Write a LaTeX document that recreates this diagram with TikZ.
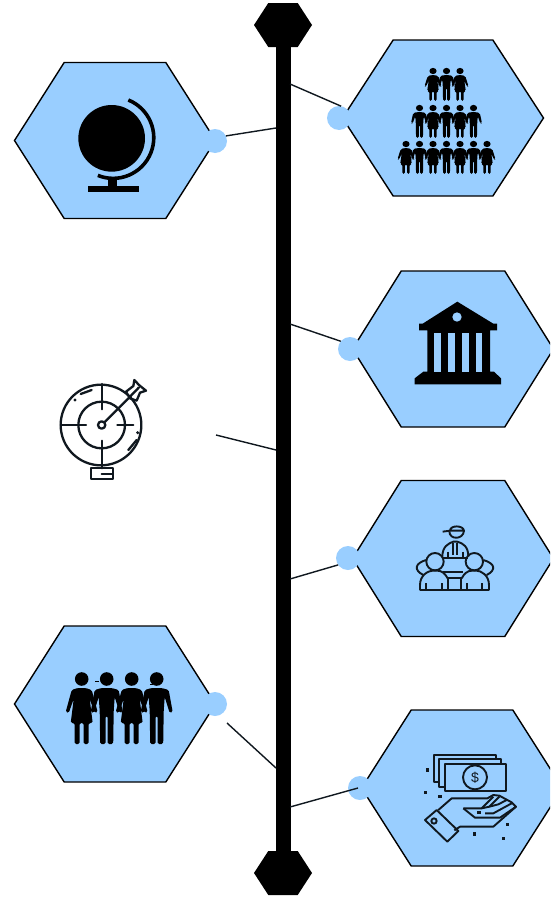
\documentclass[tikz,border=0pt]{standalone}
\usepackage{fontspec}
\setmainfont{Liberation Sans}
\usetikzlibrary{shapes.symbols,positioning}
\definecolor{hexblue}{HTML}{99CEFF}
\definecolor{inkdark}{HTML}{10181F}

\tikzset{
    hexa/.style={signal, signal to=east and west, signal pointer angle=#1,
        draw=black, fill=hexblue, line width=1.4pt, minimum width=201pt, minimum height=156pt, inner sep=0pt, outer sep=0pt},
    hexa/.default=115,
    dot/.style={circle, fill=hexblue, minimum size=24pt, inner sep=0pt, outer sep=0pt},
    link/.style={draw=inkdark, line width=1.4pt},
    ink/.style={draw=inkdark, line width=1.9pt, line join=round},
    bluefill/.style={ink, fill=hexblue},
    manfig/.pic={
        \fill[black] (0,0) circle[radius=6.8];
        \fill[black, rounded corners=1.5pt] (-5,9) -- (5,9) -- (12,11) -- (16,33) -- (13,34) -- (8,18) -- (7,32)
            -- (6.5,65) -- (1,65) -- (1,37) -- (-1,37) -- (-1,65) -- (-6.5,65) -- (-7,32) -- (-8,18) -- (-13,34) -- (-16,33) -- (-12,11) -- cycle;
    },
    womanfig/.pic={
        \fill[black] (0,0) circle[radius=6.8];
        \fill[black, rounded corners=1.5pt] (-4,9) -- (4,9) -- (10,11) -- (16,33) -- (13,34) -- (8,20) -- (11,44) -- (7,44)
            -- (7,65) -- (2,65) -- (2,44) -- (-2,44) -- (-2,65) -- (-7,65) -- (-7,44) -- (-11,44) -- (-8,20) -- (-13,34) -- (-16,33) -- (-10,11) -- cycle;
    },
    capshape/.style={signal, signal to=east and west, signal pointer angle=114,
        fill=black, inner sep=0pt, outer sep=0pt, minimum width=58pt, minimum height=44pt}
}

\begin{document}
\begin{tikzpicture}[x=1pt,y=-1pt]
    \useasboundingbox (0,0) rectangle (550,897);
    \clip (0,0) rectangle (550,897);
    \fill[white] (0,0) rectangle (550,897);

    % spine and its two ends
    \node[fill=black, minimum width=15pt, minimum height=840pt, inner sep=0pt] (spine) at (283.5,450) {};
    \node[capshape] (captop) at (283,25) {};
    \node[capshape] (capbottom) at (283,873) {};

    % hexagons
    \node[hexa] (globehex) at (115,140.5) {};
    \node[hexa=114] (crowdhex) at (443,118) {};
    \node[hexa=116] (bankhex) at (453,349) {};
    \node[hexa=116] (meethex) at (453,558.5) {};
    \node[hexa] (moneyhex) at (462,788) {};
    \node[hexa] (teamhex) at (115,704) {};

    % dots
    \node[dot] (globedot) at (215,141) {};
    \node[dot] (crowddot) at (339,118) {};
    \node[dot] (bankdot) at (350,349) {};
    \node[dot] (meetdot) at (348,558) {};
    \node[dot] (moneydot) at (360,788) {};
    \node[dot] (teamdot) at (215,704) {};

    % connectors
    \coordinate (sglobe) at (276,128);
    \coordinate (scrowd) at (290,84);
    \coordinate (sbank) at (290,324);
    \coordinate (starget) at (276,450);
    \coordinate (ftarget) at (216,435);
    \coordinate (smeet) at (290,579);
    \coordinate (steam) at (276,768);
    \coordinate (fteam) at (227,723);
    \coordinate (smoney) at (290,807);
    \coordinate (fmoney) at (358,788);
    \draw[link] (globedot.25) -- (sglobe);
    \draw[link] (crowddot.80) -- (scrowd);
    \draw[link] (bankdot.140) -- (sbank);
    \draw[link] (ftarget) -- (starget);
    \draw[link] (meetdot.215) -- (smeet);
    \draw[link] (fteam) -- (steam);
    \draw[link] (fmoney) -- (smoney);

    % globe
    \begin{scope}[shift={(60,90)},scale=1/3]
        \fill[black] (155,145) circle[radius=100];
        \draw[black, line width=3.6pt] (205,30) arc[start angle=-68, end angle=112, radius=122];
        \fill[black] (145,265) rectangle (172,290);
        \fill[black] (85,287) rectangle (238,306);
    \end{scope}

    % crowd
    \foreach \px/\py/\kind in {433/71/womanfig, 446.5/71/manfig, 460/71/womanfig,
            419.5/108/manfig, 433/108/womanfig, 446.5/108/manfig, 460/108/womanfig, 473.5/108/manfig,
            406/144/womanfig, 419.5/144/manfig, 433/144/womanfig, 446.5/144/manfig, 460/144/womanfig, 473.5/144/manfig, 487/144/womanfig}
        \pic[xscale=.53,yscale=.46] at (\px,\py) {\kind};

    % bank
    \begin{scope}[shift={(400,295)},scale=1/3]
        \fill[black] (172,20) -- (280,86) -- (291,86) -- (291,106) -- (270,106) -- (270,230) -- (282,230) -- (303,250) -- (303,268)
            -- (44,268) -- (44,250) -- (70,230) -- (82,230) -- (82,106) -- (57,106) -- (57,86) -- (68,86) -- cycle;
        \fill[hexblue] (171,66) circle[radius=14];
        \foreach \gx in {103,145,187,227}
            \fill[hexblue] (\gx,113) rectangle ++(20,117);
    \end{scope}

    % target
    \begin{scope}[shift={(40,370)},scale=1/3,line cap=round,ink/.append style={line width=2.3pt}]
        \draw[ink] (183,165) circle[radius=121];
        \draw[ink] (185,165) circle[radius=70];
        \draw[ink] (185,165) circle[radius=11];
        \draw[ink] (185,42) -- (185,118);
        \draw[ink] (185,212) -- (185,295);
        \draw[ink] (62,165) -- (138,165);
        \draw[ink] (232,165) -- (280,165);
        \draw[ink] (193,157) -- (270,80);
        \draw[ink] (258,65) -- (280,48) -- (283,30) -- (297,45) -- (318,62) -- (300,68) -- (290,92) -- (270,85) -- cycle;
        \draw[ink] (270,80) -- (297,52);
        \draw[ink] (122,72) -- (155,60);
        \draw[ink] (265,240) -- (290,210);
        \fill[inkdark] (105,90) circle[radius=5];
        \fill[inkdark] (293,188) circle[radius=5];
        \draw[ink] (152,295) rectangle (218,328);
        \draw[ink] (185,311) -- (215,311);
    \end{scope}

    % meeting
    \begin{scope}[shift={(400,510)},scale=1/3]
        \draw[ink] (128,65) -- (150,62) .. controls (150,45) and (190,45) .. (192,62) -- (150,62);
        \draw[ink] (148,64) .. controls (148,90) and (190,90) .. (192,62);
        \draw[ink] (127,140) .. controls (127,110) and (145,100) .. (160,95) -- (172,95) .. controls (190,100) and (205,110) .. (205,140);
        \draw[ink] (160,98) -- (160,135) (172,98) -- (172,135) (145,125) -- (145,140) (188,125) -- (188,140);
        \draw[ink] (127,143) -- (205,143);
        \draw[ink] (78,150) .. controls (45,160) and (40,180) .. (70,195);
        \draw[ink] (250,150) .. controls (285,160) and (290,180) .. (260,195);
        \draw[ink] (130,185) -- (190,185);
        \draw[ink] (105,155) circle[radius=26];
        \draw[ink] (223,155) circle[radius=26];
        \draw[ink] (60,241) -- (60,225) .. controls (60,195) and (85,182) .. (98,182) -- (112,182) .. controls (125,182) and (135,190) .. (143,205);
        \draw[ink] (267,241) -- (267,225) .. controls (267,195) and (242,182) .. (230,182) -- (216,182) .. controls (203,182) and (193,190) .. (185,205);
        \draw[ink] (60,241) -- (267,241);
        \draw[ink] (145,205) -- (183,205) (145,205) -- (145,241) (183,205) -- (183,241);
        \draw[ink] (78,220) -- (78,241) (125,220) -- (125,241) (200,220) -- (200,241) (245,220) -- (245,241);
    \end{scope}

    % money in hand
    \begin{scope}[shift={(410,745)},scale=1/3]
        \draw[bluefill] (72,30) rectangle (258,112);
        \draw[bluefill] (88,43) rectangle (272,125);
        \draw[bluefill] (105,58) rectangle (287,138);
        \draw[ink] (195,97) circle[radius=36];
        \node[text=inkdark, font=\fontsize{14}{14}\selectfont, inner sep=0pt] (dollar) at (195,97) {\$};
        \draw[ink] (85,195) -- (125,160) -- (232,160) -- (250,150) -- (268,152) -- (305,172) -- (318,185) -- (250,245) -- (150,245) -- (133,256);
        \draw[ink] (160,190) -- (215,190) -- (250,155);
        \draw[ink] (215,190) -- (238,185) -- (268,155);
        \draw[ink] (238,185) -- (265,178) -- (290,165);
        \draw[ink] (160,190) -- (195,218) -- (270,218) -- (318,185);
        \draw[ink] (225,205) -- (250,205) -- (305,175);
        \draw[ink] (45,225) -- (80,195) -- (145,258) -- (112,290) -- cycle;
        \draw[ink] (72,228) circle[radius=8];
        \foreach \sx/\sy in {53/75,47/142,90/155,292/238,193/267,280/280,207/202}
            \fill[inkdark] (\sx-5,\sy-5) rectangle ++(10,10);
    \end{scope}

    % team
    \pic at (81.7,679) {womanfig};
    \pic at (106.7,679) {manfig};
    \pic at (131.7,679) {womanfig};
    \pic at (156.7,679) {manfig};
    \draw[black, line width=1pt] (95,681) -- (99,681);
    \draw[black, line width=1pt] (150,684) -- (153,684);
\end{tikzpicture}
\end{document}
